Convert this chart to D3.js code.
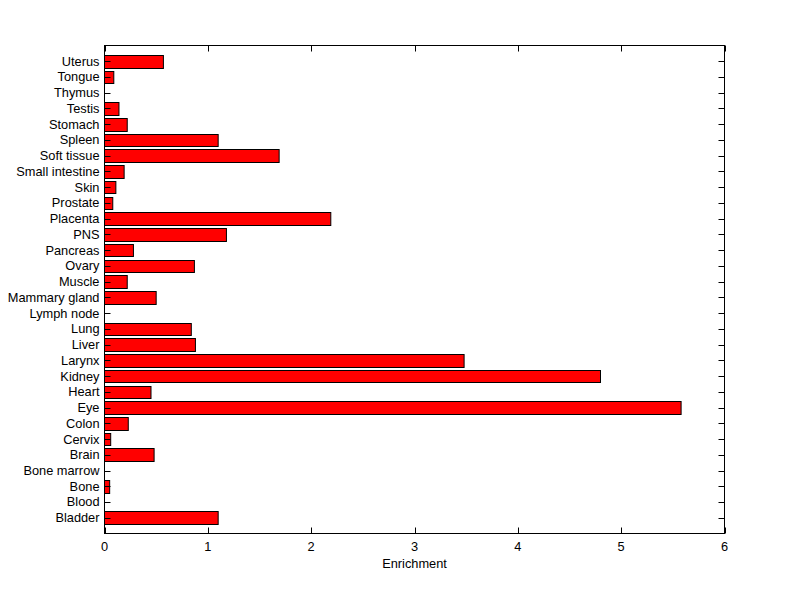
<!DOCTYPE html>
<html><head><meta charset="utf-8">
<script src="https://cdn.jsdelivr.net/npm/d3@7"></script>
<style>body{margin:0;background:#fff}svg{display:block}text{font-family:"Liberation Sans",Arial,sans-serif}</style>
</head><body>
<svg id="c" width="800" height="599"></svg>
<script>
const categories = ["Bladder","Blood","Bone","Bone marrow","Brain","Cervix","Colon","Eye","Heart","Kidney","Larynx","Liver","Lung","Lymph node","Mammary gland","Muscle","Ovary","Pancreas","PNS","Placenta","Prostate","Skin","Small intestine","Soft tissue","Spleen","Stomach","Testis","Thymus","Tongue","Uterus"];
const values = [1.10,0,0.05,0,0.48,0.06,0.23,5.58,0.45,4.80,3.48,0.88,0.84,0,0.50,0.22,0.87,0.28,1.18,2.19,0.08,0.11,0.19,1.69,1.10,0.22,0.14,0,0.09,0.57];
const xTicks = [0,1,2,3,4,5,6];
const xLabel = "Enrichment";

const L=104.5, R=724.5, T=45.5, B=533.5;
const FS = 12.8;
const svg = d3.select("#c");
const x = d3.scaleLinear().domain([0,6]).range([L,R]);
const y = d3.scaleLinear().domain([0,categories.length+1]).range([B,T]);
const bw = 0.8;
const rows = values.map((v,i)=>({v, pos:i+1})).filter(d=>d.v>0);

svg.append("g").selectAll("rect").data(rows).join("rect")
  .attr("x", x(0))
  .attr("y", d=>Math.round(y(d.pos+bw/2))+0.5)
  .attr("width", d=>x(d.v)-x(0))
  .attr("height", d=>Math.round(y(d.pos-bw/2))-Math.round(y(d.pos+bw/2)))
  .attr("fill","#ff0000").attr("stroke","#000").attr("stroke-width",1);

const g = svg.append("g").attr("stroke","#000").attr("stroke-width",1).attr("fill","none");
g.append("rect").attr("x",L).attr("y",T).attr("width",R-L).attr("height",B-T);
const yt = d3.range(1, categories.length+1);
g.selectAll(".yl").data(yt).join("path").attr("d",d=>`M${L},${Math.round(y(d))+0.5}h6`);
g.selectAll(".yr").data(yt).join("path").attr("d",d=>`M${R},${Math.round(y(d))+0.5}h-6`);
g.selectAll(".xb").data(xTicks).join("path").attr("d",d=>`M${Math.round(x(d))+0.5},${B}v-6`);
g.selectAll(".xt").data(xTicks).join("path").attr("d",d=>`M${Math.round(x(d))+0.5},${T}v6`);

svg.append("g").selectAll("text").data(categories).join("text")
  .attr("x", L-5).attr("y",(d,i)=>y(i+1)).attr("dy","0.35em")
  .attr("text-anchor","end").attr("font-size",FS).text(d=>d);
svg.append("g").selectAll("text").data(xTicks).join("text")
  .attr("x", d=>x(d)).attr("y", B+17).attr("text-anchor","middle").attr("font-size",FS).text(d=>d);
svg.append("text").attr("x",(L+R)/2).attr("y",B+34).attr("text-anchor","middle").attr("font-size",FS).text(xLabel);
</script>
</body></html>
